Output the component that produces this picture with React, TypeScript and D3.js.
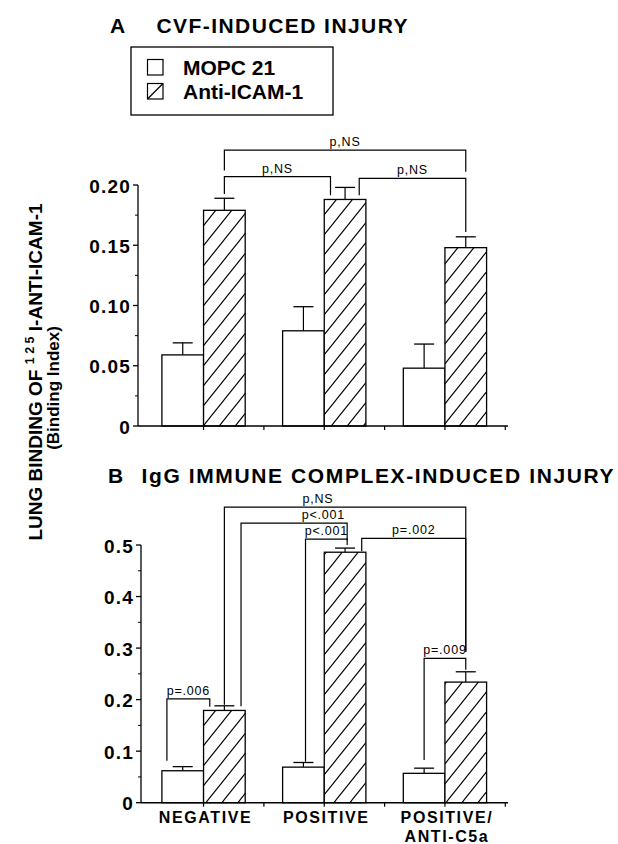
import React from 'react'
import * as d3 from 'd3'

// groups / series
const groups = ['NEGATIVE', 'POSITIVE', 'POSITIVE/ANTI-C5a']
const groupLabels = [['NEGATIVE'], ['POSITIVE'], ['POSITIVE/', 'ANTI-C5a']]
const seriesNames = ['MOPC 21', 'Anti-ICAM-1']

// A: CVF-induced injury
const cvfMopc = [0.059, 0.079, 0.048]
const cvfMopcErr = [0.010, 0.020, 0.020]
const cvfAnti = [0.179, 0.188, 0.148]
const cvfAntiErr = [0.010, 0.010, 0.009]
const cvfTicks = [0, 0.05, 0.1, 0.15, 0.2]
const cvfTickLabels = ['0', '0.05', '0.10', '0.15', '0.20']
const cvfMinor = [0.025, 0.075, 0.125, 0.175]

// B: IgG immune complex-induced injury
const igMopc = [0.062, 0.069, 0.057]
const igMopcErr = [0.008, 0.009, 0.010]
const igAnti = [0.179, 0.486, 0.234]
const igAntiErr = [0.009, 0.008, 0.020]
const igTicks = [0, 0.1, 0.2, 0.3, 0.4, 0.5]
const igTickLabels = ['0', '0.1', '0.2', '0.3', '0.4', '0.5']
const igMinor = [0.05, 0.15, 0.25, 0.35, 0.45]

// significance brackets: anchors are [group, series, fraction of bar width], levels in data units
const cvfBrackets = [
  { label: 'p,NS', from: [0, 1, 0.5], to: [2, 1, 0.5], level: 0.229, fromEnd: 0.212, toEnd: 0.211 },
  { label: 'p,NS', from: [0, 1, 0.5], to: [1, 1, 0.15], level: 0.207, fromEnd: 0.1925, toEnd: 0.1915 },
  { label: 'p,NS', from: [1, 1, 0.84], to: [2, 1, 0.5], level: 0.2055, fromEnd: 0.1915, toEnd: 0.161 },
]
const igBrackets = [
  { label: 'p,NS', from: [0, 1, 0.5], to: [2, 1, 0.5], level: 0.5736, fromEnd: 0.19, toEnd: 0.293, labelAt: [1, 0, 0.85] },
  { label: 'p<.001', from: [0, 1, 0.9], to: [1, 1, 0.55], level: 0.5425, fromEnd: 0.187, toEnd: 0.509, labelAt: [1, 0, 0.98] },
  { label: 'p<.001', from: [1, 0, 0.55], to: [1, 1, 0.55], level: 0.5115, fromEnd: 0.0796, toEnd: 0.5 },
  { label: 'p=.002', from: [1, 1, 0.9], to: [2, 1, 0.5], level: 0.5127, fromEnd: 0.488, toEnd: 0.293 },
  { label: 'p=.009', from: [2, 0, 0.5], to: [2, 1, 0.5], level: 0.28, fromEnd: 0.083, toEnd: 0.258 },
  { label: 'p=.006', from: [0, 0, 0.12], to: [0, 1, 0.15], level: 0.2014, fromEnd: 0.0816, toEnd: 0.186 },
]

const FONT = '"Liberation Sans", Arial, Helvetica, sans-serif'

const x0 = d3.scaleBand<number>()
  .domain(d3.range(groups.length))
  .range([142, 506.5])
  .paddingInner(0.31)
  .paddingOuter(0.165)
const x1 = d3.scaleBand<number>().domain([0, 1]).range([0, x0.bandwidth()])
const xAt = (a: number[]) => (x0(a[0]) as number) + (x1(a[1]) as number) + a[2] * x1.bandwidth()

const Panel = ({ axisX, y, ticks, tickLabels, minor, mopc, mopcErr, anti, antiErr, brackets, showLabels }: any) => {
  const bw = x1.bandwidth()
  const xEnd = 508
  const xTicks: number[] = []
  groups.forEach((_, g) => {
    const c = (x0(g) as number) + x0.bandwidth() / 2
    xTicks.push(c, c + x0.step() / 2)
  })
  const vals = [mopc, anti]
  const errs = [mopcErr, antiErr]
  return (
    <g>
      {/* bars */}
      {groups.map((_, g) => [0, 1].map(s => {
        const bx = (x0(g) as number) + (x1(s) as number)
        const v = vals[s][g]
        const top = y(v)
        const et = y(v + errs[s][g])
        const cx = bx + bw / 2
        return (
          <g key={`${g}-${s}`}>
            <line x1={cx} x2={cx} y1={top} y2={et} stroke="#000" strokeWidth={1.2} />
            <line x1={cx - 10} x2={cx + 10} y1={et} y2={et} stroke="#000" strokeWidth={1.3} />
            <rect x={bx} y={top} width={bw} height={y(0) - top}
              fill={s === 0 ? '#fff' : 'url(#hatch)'} stroke="#000" strokeWidth={1.3} />
          </g>
        )
      }))}

      {/* y axis */}
      <line x1={axisX} x2={axisX} y1={y(ticks[ticks.length - 1])} y2={y(0)} stroke="#000" strokeWidth={1.3} />
      {ticks.map((t: number, i: number) => (
        <g key={t}>
          <line x1={axisX - 5} x2={axisX} y1={y(t)} y2={y(t)} stroke="#000" strokeWidth={1.3} />
          <text x={axisX - 7} y={y(t) + 7.5} textAnchor="end" fontSize={19} fontWeight="bold"
            letterSpacing={1.2} fontFamily={FONT}>{tickLabels[i]}</text>
        </g>
      ))}
      {minor.map((t: number) => (
        <line key={t} x1={axisX - 3} x2={axisX} y1={y(t)} y2={y(t)} stroke="#000" strokeWidth={1} />
      ))}

      {/* x axis */}
      <line x1={axisX} x2={xEnd} y1={y(0)} y2={y(0)} stroke="#000" strokeWidth={1.4} />
      {xTicks.map((t, i) => (
        <line key={i} x1={t} x2={t} y1={y(0)} y2={y(0) + 4} stroke="#000" strokeWidth={1.2} />
      ))}
      {showLabels && groupLabels.map((lines, g) => lines.map((l, k) => (
        <text key={`${g}-${k}`} x={(x0(g) as number) + x0.bandwidth() / 2 + 2} y={y(0) + 20 + k * 19}
          textAnchor="middle" fontSize={16} fontWeight="bold" letterSpacing={1.6} fontFamily={FONT}>{l}</text>
      )))}

      {/* brackets */}
      {brackets.map((b: any, i: number) => {
        const xa = xAt(b.from)
        const xb = xAt(b.to)
        const yl = y(b.level)
        const lx = b.labelAt ? xAt(b.labelAt) : (xa + xb) / 2
        return (
          <g key={i}>
            <path d={`M${xa},${y(b.fromEnd)}V${yl}H${xb}V${y(b.toEnd)}`} fill="none" stroke="#000" strokeWidth={1.2} />
            <text x={lx} y={yl - 4} textAnchor="middle" fontSize={12.5} letterSpacing={0.8} fontFamily={FONT}>{b.label}</text>
          </g>
        )
      })}
    </g>
  )
}

export default function App() {
  const yA = d3.scaleLinear().domain([0, 0.2]).range([426, 185])
  const yB = d3.scaleLinear().domain([0, 0.5]).range([802.7, 545])

  return (
    <svg width={618} height={844} style={{ position: 'absolute', left: 0, top: 0, background: '#fff' }}>
      <defs>
        <pattern id="hatch" patternUnits="userSpaceOnUse" width={16} height={20}>
          <rect width={16} height={20} fill="#fff" />
          <path d="M0,20L16,0M-4,5L4,-5M12,25L20,15" stroke="#000" strokeWidth={1.1} />
        </pattern>
      </defs>
      <rect width={618} height={844} fill="#fff" />

      {/* titles */}
      <text x={110} y={32.5} fontSize={21} fontWeight="bold" fontFamily={FONT}>A</text>
      <text x={156.5} y={32.5} fontSize={21} fontWeight="bold" fontFamily={FONT}
        textLength={251} lengthAdjust="spacing">CVF-INDUCED INJURY</text>
      <text x={108} y={483} fontSize={21} fontWeight="bold" fontFamily={FONT}>B</text>
      <text x={141.5} y={483} fontSize={21} fontWeight="bold" fontFamily={FONT}
        textLength={472} lengthAdjust="spacing">IgG IMMUNE COMPLEX-INDUCED INJURY</text>

      {/* legend */}
      <rect x={131} y={47} width={202} height={68} fill="#fff" stroke="#000" strokeWidth={1.3} />
      {seriesNames.map((n, i) => (
        <g key={n}>
          <rect x={147.5} y={59.5 + i * 24} width={15.5} height={15.5} fill="#fff" stroke="#000" strokeWidth={1.2} />
          {i === 1 && <line x1={147.5} y1={75 + i * 24} x2={163} y2={59.5 + i * 24} stroke="#000" strokeWidth={1.2} />}
          <text x={183} y={75 + i * 24} fontSize={21} fontWeight="bold" fontFamily={FONT}>{n}</text>
        </g>
      ))}

      {/* y axis title */}
      <text transform="translate(42,372) rotate(-90)" textAnchor="middle" fontSize={19} fontWeight="bold" fontFamily={FONT}>
        LUNG BINDING OF <tspan fontSize={12.5} dy={-8}>1 2 5</tspan><tspan dy={8}> I-ANTI-ICAM-1</tspan>
      </text>
      <text transform="translate(59,388) rotate(-90)" textAnchor="middle" fontSize={17} fontWeight="bold" fontFamily={FONT}>
        (Binding Index)
      </text>

      <Panel axisX={138} y={yA} ticks={cvfTicks} tickLabels={cvfTickLabels} minor={cvfMinor}
        mopc={cvfMopc} mopcErr={cvfMopcErr} anti={cvfAnti} antiErr={cvfAntiErr} brackets={cvfBrackets} showLabels={false} />
      <Panel axisX={141} y={yB} ticks={igTicks} tickLabels={igTickLabels} minor={igMinor}
        mopc={igMopc} mopcErr={igMopcErr} anti={igAnti} antiErr={igAntiErr} brackets={igBrackets} showLabels={true} />
    </svg>
  )
}
